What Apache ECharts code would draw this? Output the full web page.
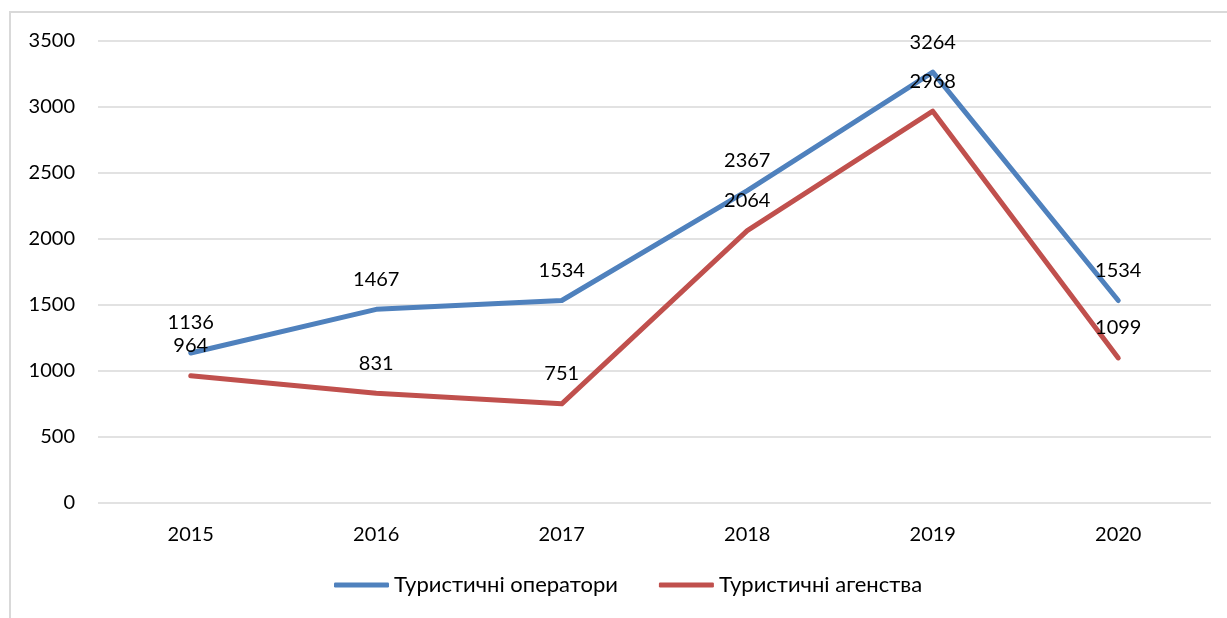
<!DOCTYPE html>
<html>
<head>
<meta charset="utf-8">
<script src="https://cdn.jsdelivr.net/npm/echarts@6/dist/echarts.min.js"></script>
<style>
  html, body { margin: 0; padding: 0; background: #fff; }
  #frame {
    position: absolute; left: 9px; top: 11px; width: 1240px; height: 620px;
    border-left: 2px solid #d9d9d9; border-top: 2px solid #d9d9d9;
  }
  #chart { position: absolute; left: 0; top: 0; width: 1227px; height: 618px; }
</style>
</head>
<body>
<div id="frame"></div>
<div id="chart"></div>
<script>
// роки
var years = ["2015", "2016", "2017", "2018", "2019", "2020"];
// кількість суб'єктів
var operators = [1136, 1467, 1534, 2367, 3264, 1534];
var agencies = [964, 831, 751, 2064, 2968, 1099];

var fontFam = "Lato, 'Open Sans', sans-serif";

var chart = echarts.init(document.getElementById("chart"));

function lineSeries (name, data, color) {
  return {
    name: name,
    type: "line",
    data: data,
    symbol: "circle",
    symbolSize: 0.1,
    showSymbol: true,
    lineStyle: { width: 5, color: color, cap: "round", join: "round" },
    itemStyle: { color: color },
    label: {
      show: true,
      position: "top",
      distance: 20,
      color: "#000",
      fontSize: 20,
      fontFamily: fontFam
    },
    z: 2
  };
}

chart.setOption({
  animation: false,
  grid: { left: 98, right: 16, top: 41, bottom: 115 },
  legend: {
    bottom: 17,
    left: 329,
    icon: "roundRect",
    itemWidth: 55,
    itemHeight: 5,
    itemGap: 41,
    textStyle: { fontSize: 22, color: "#000", fontFamily: fontFam },
    data: ["Туристичні оператори", "Туристичні агенства"]
  },
  xAxis: {
    type: "category",
    data: years,
    boundaryGap: true,
    axisLine: { show: false },
    axisTick: { show: false },
    axisLabel: { fontSize: 20, color: "#000", margin: 22, fontFamily: fontFam }
  },
  yAxis: {
    type: "value",
    min: 0,
    max: 3500,
    interval: 500,
    axisLabel: {
      fontSize: 20, color: "#000", margin: 23, fontFamily: fontFam,
      formatter: function (v) { return String(v); }
    },
    splitLine: { lineStyle: { color: "#d9d9d9", width: 1.5 } }
  },
  series: [
    lineSeries("Туристичні оператори", operators, "#4f81bd"),
    lineSeries("Туристичні агенства", agencies, "#c0504d")
  ]
});
</script>
</body>
</html>
